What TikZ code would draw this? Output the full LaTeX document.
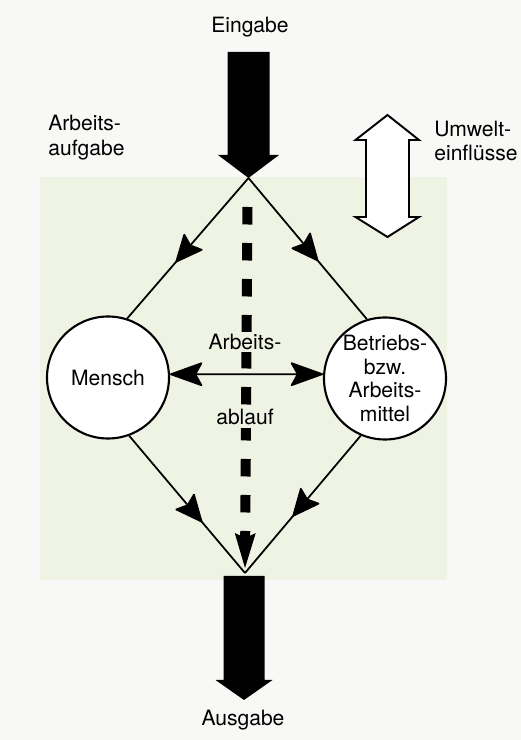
\documentclass[tikz,border=0pt]{standalone}
\usepackage{fontspec}
\setmainfont{TeX Gyre Heros}
\usetikzlibrary{arrows.meta,decorations.markings}
\definecolor{paper}{HTML}{F8F8F6}
\definecolor{field}{HTML}{EEF3E4}
\tikzset{
  txt/.style={font=\fontsize{12}{13.8}\selectfont, inner sep=0pt, align=left},
  station/.style={circle, draw, line width=1.2pt, fill=white, minimum size=2.44cm,
    inner sep=0pt, align=center, font=\fontsize{12}{13.6}\selectfont},
  flow/.style={line width=1pt},
  headtip/.tip={Stealth[length=7mm,width=5mm,inset=1.4mm,round]},
  midarrow/.style={postaction={decorate}, decoration={markings,
    mark=at position #1 with {\arrow{Stealth[length=5.8mm,width=5.2mm,inset=0.9mm,round]}}}},
}
\begin{document}
\begin{tikzpicture}
			%%%%% START %%%%%
			
			\fill[paper] (0, 0) rectangle (10.42, 14.8);
			\useasboundingbox (0, 0) rectangle (10.42, 14.8);
			\fill[field] (0.8, 3.2) rectangle (8.94, 11.26);
			
			\coordinate (in) at (4.97, 11.24);
			\coordinate (out) at (4.9, 3.34);
			
			\node[txt] (eingabe) at (5.0, 14.26) {Eingabe};
			\fill (4.55, 13.76) -- (5.39, 13.76) -- (5.39, 11.7) -- (5.58, 11.7)
			  -- (in) -- (4.36, 11.7) -- (4.55, 11.7) -- cycle;
			
			\node[txt, anchor=west] (aufgabe) at (0.96, 12.05) {Arbeits-\\aufgabe};
			
			\draw[line width=1.1pt, fill=white] (7.32, 10.46) -- (7.32, 12.0) -- (7.11, 12.0)
			  -- (7.75, 12.5) -- (8.38, 12.0) -- (8.18, 12.0) -- (8.18, 10.46)
			  -- (8.38, 10.46) -- (7.75, 10.06) -- (7.11, 10.46) -- cycle;
			\node[txt, anchor=west] (umwelt) at (8.68, 11.98) {Umwelt-\\einflüsse};
			
			\node[station] (mensch) at (2.16, 7.25) {Mensch};
			\node[station] (betrieb) at (7.7, 7.23) {Betriebs-\\bzw.\\Arbeits-\\mittel};
			
			\draw[flow, midarrow=0.6] (in) -- (mensch.72);
			\draw[flow, midarrow=0.59] (in) -- (betrieb.107);
			\draw[flow, midarrow=0.63] (mensch.-70) -- (out);
			\draw[flow, midarrow=0.59] (betrieb.247) -- (out);
			
			\coordinate (dtop) at (4.95, 10.66);
			\coordinate (dbot) at (4.9, 3.44);
			\draw[line width=0.2cm, dash pattern=on 0.35cm off 0.37cm,
			  -{Stealth[length=7mm,width=4.2mm,inset=1mm,line width=0pt]}] (dtop) -- (dbot);
			
			\node[txt, fill=field, inner sep=1.5pt] (ablauf1) at (4.9, 7.96) {Arbeits-};
			\node[txt, fill=field, inner sep=1.5pt] (ablauf2) at (4.9, 6.46) {ablauf};
			
			\draw[flow, headtip-headtip] (mensch.3) -- (betrieb.176);
			
			\fill (4.47, 3.28) -- (5.29, 3.28) -- (5.29, 1.2) -- (5.45, 1.2)
			  -- (4.88, 0.8) -- (4.31, 1.2) -- (4.47, 1.2) -- cycle;
			\node[txt] (ausgabe) at (4.86, 0.4) {Ausgabe};
			
			%%%%% END %%%%%
\end{tikzpicture}
\end{document}
